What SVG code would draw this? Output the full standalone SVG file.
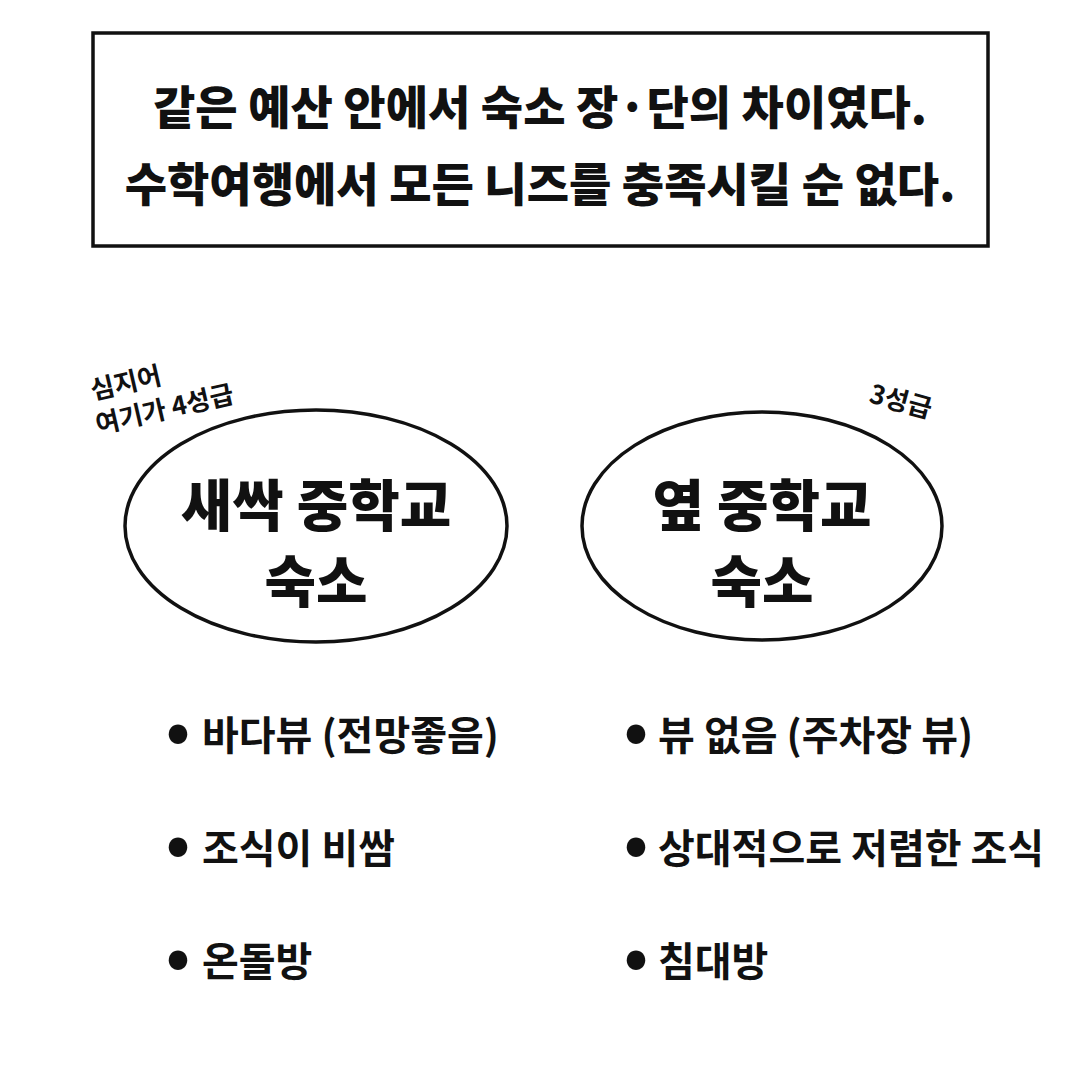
<svg xmlns="http://www.w3.org/2000/svg" width="1080" height="1072" viewBox="0 0 1080 1072">
<style>
.t{font-family:"Noto Sans CJK KR","Noto Sans",sans-serif;font-weight:900;fill:#111}
.title{font-size:46px;text-anchor:middle}
.node{font-size:56px;text-anchor:middle}
.item{font-size:40px;font-weight:700}
.dot{font-size:60px;font-weight:900}
.note{font-size:26px;font-weight:700}
.shape{fill:#fff;stroke:#111;stroke-width:3.5}
</style>
<rect width="1080" height="1072" fill="#fff"/>
<g id="header">
<rect class="shape" x="93" y="33" width="895" height="213"/>
<text class="t title" x="540" y="124">같은 예산 안에서 숙소 장·단의 차이였다.</text>
<text class="t title" x="540" y="201">수학여행에서 모든 니즈를 충족시킬 순 없다.</text>
</g>
<g id="connectors"></g>
<g id="node-left">
<ellipse class="shape" cx="316" cy="526" rx="191" ry="116"/>
<text class="t node" x="316" y="526">새싹 중학교</text>
<text class="t node" x="316" y="602">숙소</text>
</g>
<g id="node-right">
<ellipse class="shape" cx="762" cy="526" rx="180" ry="114"/>
<text class="t node" x="762" y="526">옆 중학교</text>
<text class="t node" x="762" y="602">숙소</text>
</g>
<g id="note-left">
<text class="t note" transform="translate(93,400) rotate(-13)">심지어</text>
<text class="t note" transform="translate(98,434) rotate(-13)">여기가 4성급</text>
</g>
<g id="note-right">
<text class="t note" transform="translate(868,402) rotate(15)">3성급</text>
</g>
<g id="list-left">
<text class="t dot" x="166" y="752">•</text><text class="t item" x="202" y="750">바다뷰 (전망좋음)</text>
<text class="t dot" x="166" y="865">•</text><text class="t item" x="202" y="863">조식이 비쌈</text>
<text class="t dot" x="166" y="978">•</text><text class="t item" x="202" y="976">온돌방</text>
</g>
<g id="list-right">
<text class="t dot" x="624" y="752">•</text><text class="t item" x="658" y="750">뷰 없음 (주차장 뷰)</text>
<text class="t dot" x="624" y="865">•</text><text class="t item" x="658" y="863">상대적으로 저렴한 조식</text>
<text class="t dot" x="624" y="978">•</text><text class="t item" x="658" y="976">침대방</text>
</g>
</svg>
